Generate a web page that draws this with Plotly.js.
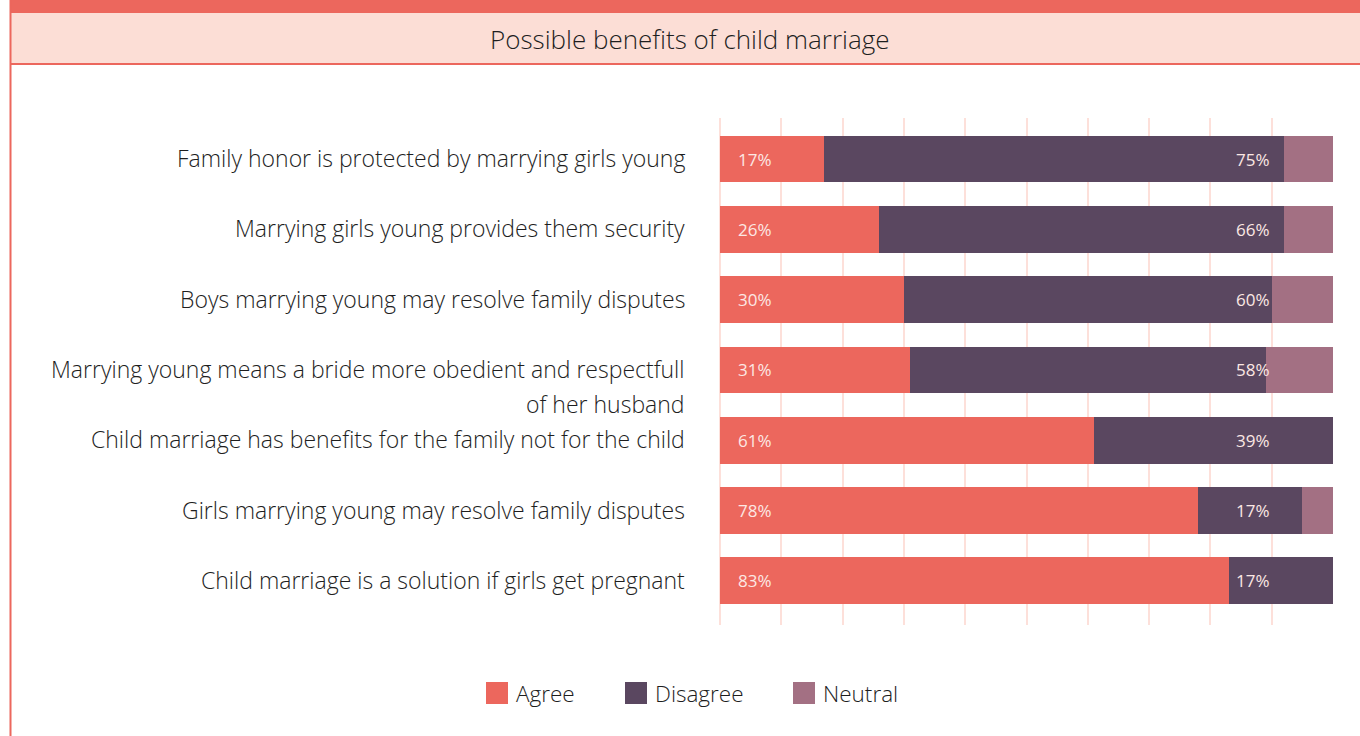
<!DOCTYPE html>
<html>
<head>
<meta charset="utf-8">
<script src="https://cdn.plot.ly/plotly-3.0.1.min.js"></script>
<style>html,body{margin:0;padding:0;background:#fff;}#chart{width:1360px;height:736px;}</style>
</head>
<body>
<div id="chart"></div>
<script>
const chartTitle = "Possible benefits of child marriage";
const categories = [
  "Family honor is protected by marrying girls young",
  "Marrying girls young provides them security",
  "Boys marrying young may resolve family disputes",
  "Marrying young means a bride more obedient and respectfull<br>of her husband",
  "Child marriage has benefits for the family not for the child",
  "Girls marrying young may resolve family disputes",
  "Child marriage is a solution if girls get pregnant"
];
const seriesNames = ["Agree", "Disagree", "Neutral"];
const agree    = [17, 26, 30, 31, 61, 78, 83];
const disagree = [75, 66, 60, 58, 39, 17, 17];
const neutral  = [8, 8, 10, 11, 0, 5, 0];

const colors = ["#ec675d", "#5a4760", "#a37083"];
const W = 1360, H = 736;
const M = {l: 720, r: 27, t: 118, b: 111};
const pw = W - M.l - M.r, ph = H - M.t - M.b;
const px = x => (x - M.l) / pw;
const py = y => (H - M.b - y) / ph;
const FONT = "'Open Sans', sans-serif";

const seriesVals = [agree, disagree, neutral];
const traces = seriesVals.map((vals, i) => ({
  type: "bar",
  orientation: "h",
  name: seriesNames[i],
  y: categories,
  x: vals,
  width: 0.668,
  marker: {color: colors[i], line: {width: 0}},
  hoverinfo: "skip",
  showlegend: false
}));

const annotations = [];
const shapes = [];

// Category labels
categories.forEach(cat => {
  cat.split("<br>").forEach((line, i) => {
    annotations.push({
      xref: "paper", yref: "y", x: px(687), y: cat,
      xanchor: "right", yanchor: "middle", yshift: 1 - 35 * i,
      text: line, showarrow: false,
      font: {family: FONT, size: 23, color: "#1e1e1e", weight: 300}
    });
  });
});

// Value labels
categories.forEach((cat, k) => {
  annotations.push({
    xref: "x", yref: "y", x: 2.6, y: cat, xanchor: "left", yanchor: "middle",
    text: agree[k] + "%", showarrow: false,
    font: {family: FONT, size: 17, color: "#fce8e4", weight: 400}
  });
  annotations.push({
    xref: "x", yref: "y", x: 90.1, y: cat, xanchor: "right", yanchor: "middle",
    text: disagree[k] + "%", showarrow: false,
    font: {family: FONT, size: 17, color: "#fce8e4", weight: 400}
  });
});

// Header
shapes.push({type: "rect", xref: "paper", yref: "paper", x0: px(10), x1: px(1365), y0: py(0) + 0.02, y1: py(13), fillcolor: "#ec675d", line: {width: 0}, layer: "above"});
shapes.push({type: "rect", xref: "paper", yref: "paper", x0: px(10), x1: px(1365), y0: py(13), y1: py(63), fillcolor: "#fcded6", line: {width: 0}, layer: "above"});
shapes.push({type: "line", xref: "paper", yref: "paper", x0: px(10), x1: px(1365), y0: py(64), y1: py(64), line: {color: "#ec675d", width: 2}, layer: "above"});
shapes.push({type: "line", xref: "paper", yref: "paper", x0: px(10.5), x1: px(10.5), y0: py(-5), y1: py(745), line: {color: "#ec675d", width: 2}, layer: "above"});
annotations.push({
  xref: "paper", yref: "paper", x: px(690), y: py(39), xanchor: "center", yanchor: "middle",
  text: chartTitle, showarrow: false, font: {family: FONT, size: 26, color: "#1e1e1e", weight: 300}
});

// Legend
const legX = [486, 625, 793];
seriesNames.forEach((nm, i) => {
  shapes.push({type: "rect", xref: "paper", yref: "paper", x0: px(legX[i]), x1: px(legX[i] + 22), y0: py(704), y1: py(682), fillcolor: colors[i], line: {width: 0}});
  annotations.push({
    xref: "paper", yref: "paper", x: px(legX[i] + 28), y: py(693), xanchor: "left", yanchor: "middle",
    text: nm, showarrow: false, font: {family: FONT, size: 22.5, color: "#1e1e1e", weight: 300}
  });
});

const layout = {
  width: W, height: H,
  margin: M,
  paper_bgcolor: "#fff", plot_bgcolor: "#fff",
  barmode: "stack",
  showlegend: false,
  xaxis: {range: [0, 100], dtick: 10, tick0: 0, showgrid: true, gridcolor: "#fde0da", gridwidth: 2,
          zeroline: true, zerolinecolor: "#fde0da", zerolinewidth: 2,
          showline: false, showticklabels: false, ticks: "", fixedrange: true},
  yaxis: {type: "category", range: [6.626, -0.583], showgrid: false, zeroline: false, showline: false,
          showticklabels: false, ticks: "", fixedrange: true},
  shapes: shapes,
  annotations: annotations
};

Plotly.newPlot("chart", traces, layout, {displayModeBar: false, staticPlot: true});
</script>
</body>
</html>
